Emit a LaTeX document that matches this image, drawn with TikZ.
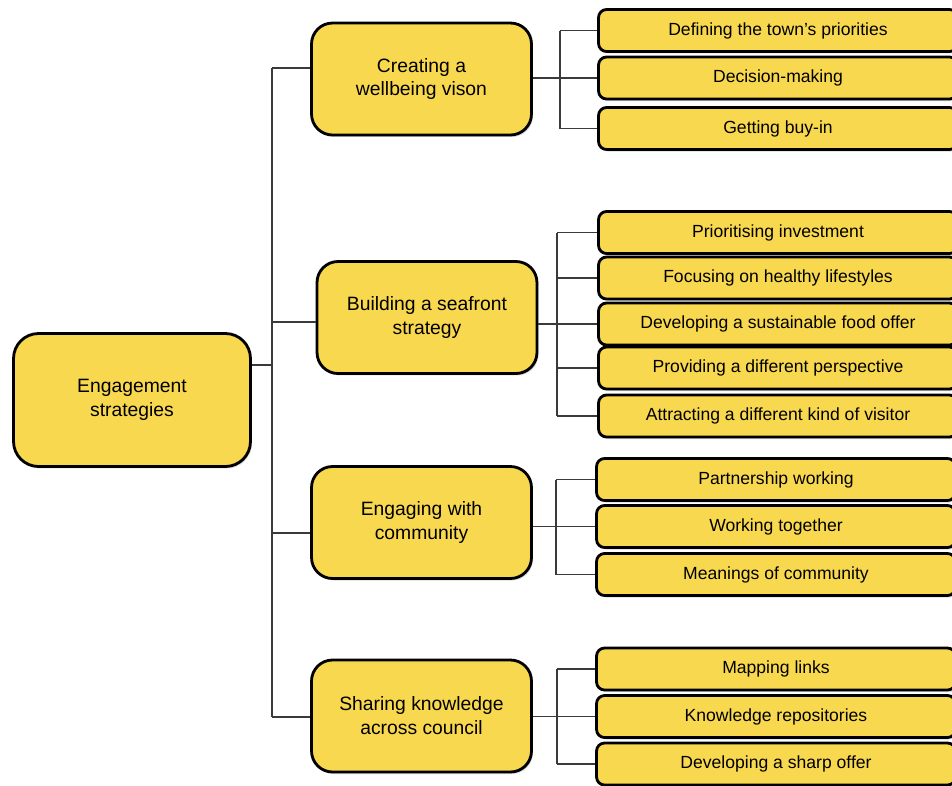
\documentclass[tikz,border=0pt]{standalone}
\usepackage{fontspec}
\setmainfont{Liberation Sans}
\usetikzlibrary{positioning,calc,shadows}
\definecolor{boxyellow}{HTML}{F8D84F}
\definecolor{linkgray}{HTML}{3A3A3A}

\begin{document}
\begin{tikzpicture}[x=0.02cm,y=-0.02cm,
  box/.style={draw=black,line width=1.6pt,fill=boxyellow,align=center,inner sep=0pt,
    drop shadow={shadow xshift=0.03cm,shadow yshift=-0.04cm,fill=black!30}},
  root/.style={box,rounded corners=0.5cm,minimum width=4.74cm,minimum height=2.66cm,
    font=\fontsize{11}{13.6}\selectfont},
  topic/.style={box,rounded corners=0.42cm,minimum width=4.4cm,minimum height=2.24cm,
    font=\fontsize{11}{13.6}\selectfont},
  leaf/.style={box,rounded corners=0.16cm,minimum width=7.18cm,minimum height=0.84cm,
    font=\fontsize{10}{12}\selectfont},
  link/.style={draw=linkgray,line width=0.6pt}]
\useasboundingbox (0,0) rectangle (952,785);
\clip (0,0) rectangle (952,785);

% root and first level
\node[root] at (132,400) (strat) {Engagement\\strategies};
\node[topic] at (421.5,79) (vision) {Creating a\\wellbeing vison};
\node[topic] at (427,317.5) (seafront) {Building a seafront\\strategy};
\node[topic] at (421.5,522.5) (community) {Engaging with\\community};
\node[topic] at (421.5,716) (sharing) {Sharing knowledge\\across council};

% leaves
\foreach \n/\y/\t in {v1/30.5/{Defining the town's priorities},v2/78/{Decision-making},v3/128.5/{Getting buy-in}}
  \node[leaf] at (778,\y) (\n) {\t};
\foreach \n/\y/\t in {s1/232.5/{Prioritising investment},s2/278/{Focusing on healthy lifestyles},
    s3/324/{Developing a sustainable food offer},s4/368/{Providing a different perspective},
    s5/416/{Attracting a different kind of visitor}}
  \node[leaf] at (778,\y) (\n) {\t};
\foreach \n/\y/\t in {c1/479.5/{Partnership working},c2/526.5/{Working together},c3/574.5/{Meanings of community}}
  \node[leaf] at (776,\y) (\n) {\t};
\foreach \n/\y/\t in {k1/669/{Mapping links},k2/716.5/{Knowledge repositories},k3/764/{Developing a sharp offer}}
  \node[leaf] at (776,\y) (\n) {\t};

% trunk
\coordinate (rootjoin) at (272,365);
\coordinate (trunktop) at (272,68);
\coordinate (seajoin) at (272,322);
\coordinate (comjoin) at (272,533);
\coordinate (trunkbot) at (272,717);
\draw[link] (trunktop) -- (trunkbot);
\draw[link] (strat.east |- rootjoin) -- (rootjoin);
\foreach \j/\p in {trunktop/vision,seajoin/seafront,comjoin/community,trunkbot/sharing}
  \draw[link] (\j) -- (\p.west |- \j);

% buses to the leaves
\coordinate (vbus) at (560,0);
\coordinate (sbus) at (557,0);
\coordinate (cbus) at (556,0);
\coordinate (kbus) at (557,0);
\draw[link] (vbus |- v1) -- (vbus |- v3);
\draw[link] (sbus |- s1) -- (sbus |- s5);
\draw[link] (cbus |- c1) -- (cbus |- c3);
\draw[link] (kbus |- k1) -- (kbus |- k3);
\foreach \b/\n in {vbus/v1,vbus/v3,sbus/s1,sbus/s2,sbus/s4,sbus/s5,cbus/c1,cbus/c3,kbus/k1,kbus/k3}
  \draw[link] (\b |- \n) -- (\n.west);
\foreach \p/\n in {vision/v2,seafront/s3,community/c2,sharing/k2}
  \draw[link] (\p.east |- \n) -- (\n.west);
\end{tikzpicture}
\end{document}
